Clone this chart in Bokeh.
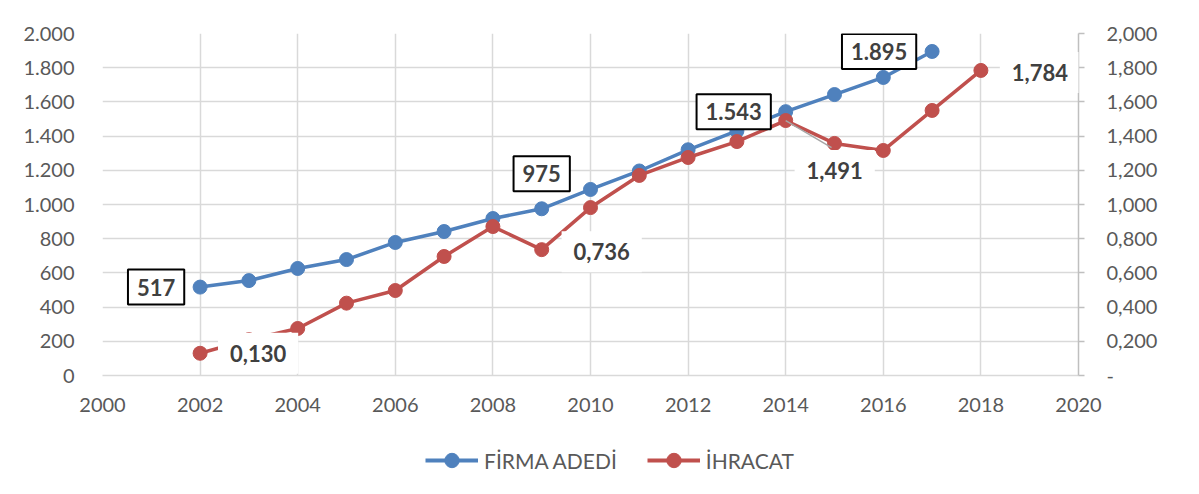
from bokeh.plotting import figure
from bokeh.layouts import column
from bokeh.models import (Range1d, LinearAxis, FixedTicker, CustomJSTickFormatter,
                          Label, Legend, LegendItem)
from bokeh.embed import file_html
from bokeh.resources import INLINE

# ---- data ----
years_firma = [2002, 2003, 2004, 2005, 2006, 2007, 2008, 2009, 2010, 2011, 2012, 2013, 2014, 2015, 2016, 2017]
firma_adedi = [517, 555, 626, 678, 778, 842, 918, 975, 1088, 1196, 1320, 1430, 1543, 1643, 1743, 1895]

years_ihracat = [2002, 2003, 2004, 2005, 2006, 2007, 2008, 2009, 2010, 2011, 2012, 2013, 2014, 2015, 2016, 2017, 2018]
ihracat = [0.130, 0.210, 0.275, 0.423, 0.497, 0.696, 0.871, 0.736, 0.982, 1.170, 1.275, 1.368, 1.491, 1.357, 1.316, 1.550, 1.784]

x_ticks = list(range(2000, 2021, 2))
left_ticks = list(range(0, 2001, 200))
right_ticks = [0.0, 0.2, 0.4, 0.6, 0.8, 1.0, 1.2, 1.4, 1.6, 1.8, 2.0]

firma_label_years = [2002, 2009, 2014, 2017]
ihracat_label_years = [2002, 2009, 2014, 2018]

series_names = ["FİRMA ADEDİ", "İHRACAT"]

BLUE = "#4F81BD"
RED = "#C0504D"
GRID = "#d9d9d9"
TXT = "#595959"
FONT = "Lato"

p = figure(width=1183, height=430, x_range=Range1d(2000, 2020), y_range=Range1d(0, 2000),
           output_backend="svg", toolbar_location=None,
           min_border_left=102, min_border_right=105, min_border_top=33, min_border_bottom=55)
p.extra_y_ranges = {"r": Range1d(0, 2)}
p.outline_line_color = None
p.background_fill_color = "white"
p.border_fill_color = "white"

# grids
p.xgrid.ticker = FixedTicker(ticks=x_ticks)
p.ygrid.ticker = FixedTicker(ticks=left_ticks)
for g in (p.xgrid[0], p.ygrid[0]):
    g.grid_line_color = GRID
    g.grid_line_width = 1.5

# x axis
xa = p.xaxis[0]
xa.ticker = FixedTicker(ticks=x_ticks)
xa.axis_line_color = GRID
xa.axis_line_width = 1.5
xa.major_tick_line_color = None
xa.minor_tick_line_color = None
xa.major_label_standoff = 16

# left axis
ya = p.yaxis[0]
ya.ticker = FixedTicker(ticks=left_ticks)
ya.axis_line_color = None
ya.major_tick_line_color = None
ya.minor_tick_line_color = None
ya.major_label_standoff = 22
ya.formatter = CustomJSTickFormatter(code="""
var s = Math.round(tick).toString();
return s.replace(/\\B(?=(\\d{3})+(?!\\d))/g, ".");
""")

# right axis
ra = LinearAxis(y_range_name="r", ticker=FixedTicker(ticks=right_ticks))
ra.axis_line_color = "#bfbfbf"
ra.axis_line_width = 1.5
ra.major_tick_line_color = "#bfbfbf"
ra.major_tick_line_width = 1.5
ra.major_tick_in = 0
ra.major_tick_out = 6
ra.minor_tick_line_color = None
ra.major_label_standoff = 22
ra.formatter = CustomJSTickFormatter(code="""
if (Math.abs(tick) < 1e-9) { return "-"; }
return tick.toFixed(3).replace(".", ",");
""")
p.add_layout(ra, "right")

for ax in (xa, ya, ra):
    ax.major_label_text_font = FONT
    ax.major_label_text_font_size = "20px"
    ax.major_label_text_color = TXT

# series
bl = p.line(years_firma, firma_adedi, line_color=BLUE, line_width=3.5)
bs = p.scatter(years_firma, firma_adedi, size=14, fill_color=BLUE, line_color=BLUE)
rl = p.line(years_ihracat, ihracat, line_color=RED, line_width=3.5, y_range_name="r")
rs = p.scatter(years_ihracat, ihracat, size=14, fill_color=RED, line_color=RED, y_range_name="r")

# leader line for 1,491 label
i14 = years_ihracat.index(2014)
p.segment(x0=[years_ihracat[i14]], y0=[ihracat[i14]],
          x1=[years_ihracat[i14] + 0.94], y1=[ihracat[i14] - 0.158],
          y_range_name="r", line_color="#a6a6a6", line_width=1.5)

# data labels
firma_offsets = {2002: (-44, 0), 2009: (0, 35), 2014: (-52, 0), 2017: (-53, 0)}
for yr in firma_label_years:
    v = firma_adedi[years_firma.index(yr)]
    dx, dy = firma_offsets[yr]
    p.add_layout(Label(x=yr, y=v, x_offset=dx, y_offset=dy,
                       text=f"{v:,}".replace(",", "."),
                       text_font=FONT, text_font_style="bold", text_font_size="22px",
                       text_color="#404040", text_align="center", text_baseline="middle",
                       background_fill_color="white", border_line_color="black",
                       border_line_width=2, padding=9))

ihracat_offsets = {2002: (58, 0), 2009: (60, -2), 2014: (49, -50), 2018: (59, -2)}
for yr in ihracat_label_years:
    v = ihracat[years_ihracat.index(yr)]
    dx, dy = ihracat_offsets[yr]
    p.add_layout(Label(x=yr, y=v, x_offset=dx, y_offset=dy, y_range_name="r",
                       text=f"{v:.3f}".replace(".", ","),
                       text_font=FONT, text_font_style="bold", text_font_size="22px",
                       text_color="#404040", text_align="center", text_baseline="middle",
                       background_fill_color="white", border_line_color=None,
                       padding=12))

# legend in a separate strip below the chart (series drawn outside its visible range)
q = figure(width=1183, height=48, x_range=Range1d(0, 1), y_range=Range1d(0, 1),
           output_backend="svg", toolbar_location=None,
           x_axis_location=None, y_axis_location=None,
           min_border_left=0, min_border_right=0, min_border_top=0, min_border_bottom=0)
q.grid.visible = False
q.outline_line_color = None
q.border_fill_color = "white"
q.background_fill_color = "white"
lb_line = q.line(years_firma, firma_adedi, line_color=BLUE, line_width=4)
lb_pt = q.scatter(years_firma, firma_adedi, size=14, fill_color=BLUE, line_color=BLUE)
lr_line = q.line(years_ihracat, ihracat, line_color=RED, line_width=4)
lr_pt = q.scatter(years_ihracat, ihracat, size=14, fill_color=RED, line_color=RED)
legend = Legend(items=[LegendItem(label=series_names[0], renderers=[lb_line, lb_pt]),
                       LegendItem(label=series_names[1], renderers=[lr_line, lr_pt])],
                orientation="horizontal", location=(323, 0),
                label_text_font=FONT, label_text_font_size="21px", label_text_color=TXT,
                glyph_width=53, glyph_height=36, label_standoff=6, spacing=30,
                border_line_color=None, background_fill_alpha=0,
                padding=2, margin=0)
q.add_layout(legend, "center")

open("out.html", "w").write(file_html(column(p, q, spacing=0), INLINE))
